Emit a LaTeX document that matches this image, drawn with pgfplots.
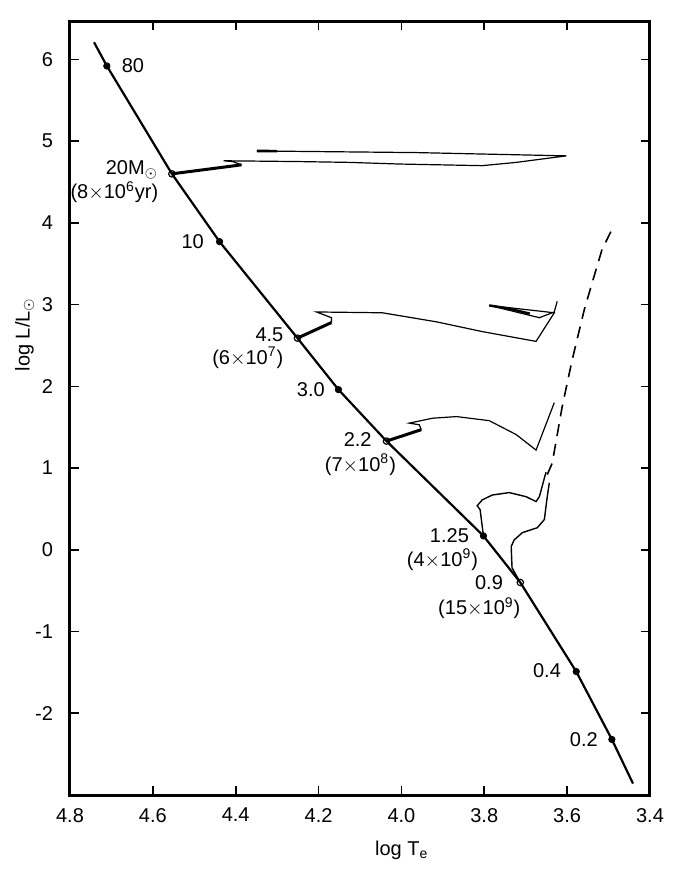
\documentclass[border=0pt]{standalone}
\usepackage{fontspec}
\setmainfont{Liberation Sans}
\usepackage{pgfplots}
\pgfplotsset{compat=1.18}

\begin{document}
\begin{tikzpicture}
\begin{axis}[
  scale only axis, width=290pt, height=387pt,
  x dir=reverse, xmin=3.4, xmax=4.8, ymin=-3, ymax=6.47,
  xtick={3.4,3.6,3.8,4.0,4.2,4.4,4.6,4.8},
  ytick={-2,-1,0,1,2,3,4,5,6},
  tick align=inside, major tick length=4.5pt,
  axis line style={line width=1.5pt},
  major tick style={line width=0.8pt, black},
  /pgf/number format/assume math mode=true,
  xticklabel style={/pgf/number format/fixed, /pgf/number format/fixed zerofill, /pgf/number format/precision=1, yshift=-3pt},
  yticklabel style={xshift=-5pt},
  tick label style={font=\normalsize},
  xlabel={log T\textsubscript{e}},
  ylabel={log L/L$_{\odot}$},
  xlabel style={at={(axis description cs:0.572,-0.071)}, anchor=center},
  ylabel style={at={(axis description cs:-0.078,0.595)}, anchor=center},
  clip=false,
]
% zero-age main sequence
\addplot[black, line width=1.1pt] coordinates {
  (4.742,6.21) (4.711,5.92) (4.554,4.60) (4.439,3.77) (4.251,2.59) (4.152,1.96)
  (4.036,1.33) (3.802,0.17) (3.713,-0.40) (3.578,-1.49) (3.492,-2.32) (3.441,-2.86)};

% 20 Msun
\addplot[black, line width=1.5pt] coordinates {(4.554,4.60) (4.386,4.71)};
\addplot[black, line width=0.6pt] coordinates {
  (4.386,4.71) (4.407,4.75) (4.429,4.76) (4.246,4.75) (4.125,4.74) (4.005,4.72)
  (3.805,4.70) (3.723,4.74) (3.602,4.82) (3.964,4.86) (4.349,4.88)};
\addplot[black, line width=1.3pt] coordinates {(4.349,4.88) (4.300,4.878)};

% 4.5 Msun
\addplot[black, line width=1.5pt] coordinates {(4.251,2.59) (4.169,2.78)};
\addplot[black, line width=0.6pt] coordinates {
  (4.169,2.78) (4.169,2.84) (4.205,2.91) (4.046,2.90) (3.916,2.79) (3.805,2.67)
  (3.675,2.55) (3.631,2.90) (3.788,2.99) (3.667,2.84) (3.631,2.91) (3.624,3.04)};
\addplot[black, line width=1.2pt] coordinates {(3.788,2.99) (3.740,2.95) (3.690,2.89)};

% 2.2 Msun
\addplot[black, line width=1.5pt] coordinates {(4.036,1.33) (3.952,1.47)};
\addplot[black, line width=0.6pt] coordinates {
  (3.952,1.47) (3.957,1.53) (3.981,1.55) (3.925,1.61) (3.867,1.63) (3.788,1.58)
  (3.723,1.41) (3.675,1.22) (3.631,1.80)};

% 1.25 Msun
\addplot[black, line width=0.7pt] coordinates {
  (3.802,0.17) (3.810,0.49) (3.817,0.54) (3.805,0.61) (3.781,0.67) (3.740,0.70)
  (3.699,0.65) (3.675,0.59) (3.667,0.65) (3.651,0.95)};

% 0.9 Msun
\addplot[black, line width=0.7pt] coordinates {
  (3.713,-0.40) (3.733,-0.22) (3.735,0.04) (3.728,0.12) (3.708,0.21) (3.672,0.27)
  (3.655,0.37) (3.648,0.65) (3.643,0.82)};

% dashed continuation
\addplot[black, line width=0.8pt, dash pattern=on 6pt off 4pt] coordinates {
  (3.648,0.92) (3.636,1.06) (3.612,1.75) (3.588,2.32) (3.559,2.93) (3.540,3.26)
  (3.516,3.67) (3.487,3.97)};

% mass points on the main sequence
\addplot[only marks, mark=*, mark size=1.6pt, black] coordinates {
  (4.711,5.92) (4.439,3.77) (4.152,1.96) (3.802,0.17) (3.578,-1.49) (3.492,-2.32)};
\addplot[only marks, mark=o, mark size=1.6pt, black, mark options={fill=white, line width=0.6pt}] coordinates {
  (4.554,4.60) (4.251,2.59) (4.036,1.33) (3.713,-0.40)};

% labels
\node[anchor=west] at (axis cs:4.692,5.92) {80};
\node[anchor=east] at (axis cs:4.57,4.65) {20M$_{\odot}$};
\node[anchor=east] at (axis cs:4.57,4.38) {(8$\times$10\textsuperscript{6}yr)};
\node[anchor=east] at (axis cs:4.46,3.77) {10};
\node[anchor=east] at (axis cs:4.268,2.63) {4.5};
\node[anchor=east] at (axis cs:4.268,2.35) {(6$\times$10\textsuperscript{7})};
\node[anchor=east] at (axis cs:4.168,1.96) {3.0};
\node[anchor=east] at (axis cs:4.055,1.35) {2.2};
\node[anchor=center] at (axis cs:4.099,1.04) {(7$\times$10\textsuperscript{8})};
\node[anchor=east] at (axis cs:3.820,0.17) {1.25};
\node[anchor=center] at (axis cs:3.901,-0.12) {(4$\times$10\textsuperscript{9})};
\node[anchor=east] at (axis cs:3.738,-0.40) {0.9};
\node[anchor=center] at (axis cs:3.812,-0.71) {(15$\times$10\textsuperscript{9})};
\node[anchor=east] at (axis cs:3.598,-1.48) {0.4};
\node[anchor=east] at (axis cs:3.509,-2.32) {0.2};
\end{axis}
\pgfresetboundingbox
\path[use as bounding box] ([xshift=-35pt,yshift=-40.5pt]current axis.south west) rectangle ([xshift=19pt,yshift=10.5pt]current axis.north east);
\end{tikzpicture}
\end{document}
